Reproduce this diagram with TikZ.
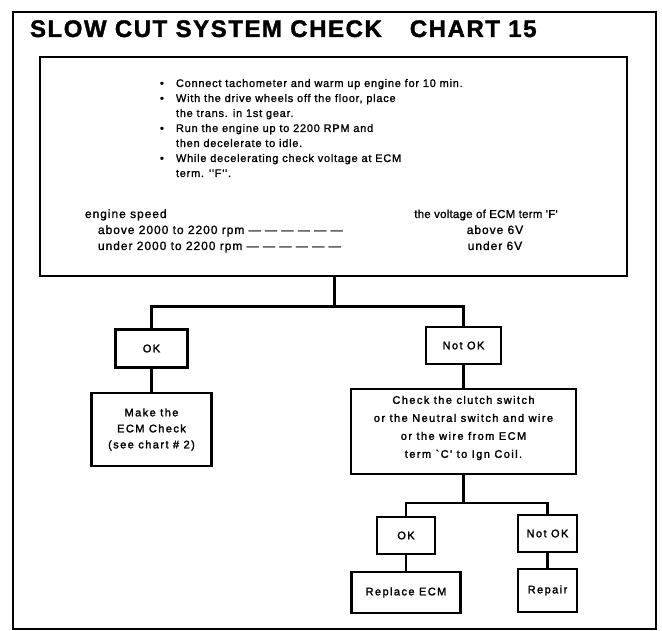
\documentclass[tikz,border=0pt]{standalone}
\usepackage{fontspec}
\setmainfont{Liberation Sans}
\newfontfamily\titlefont[LetterSpace=6.5,FakeBold=1.5]{Liberation Sans Bold}
\newfontfamily\listfont[LetterSpace=6.8,FakeBold=1.3]{Liberation Sans}
\newfontfamily\speedfont[LetterSpace=8,FakeBold=1.3]{Liberation Sans}
\newfontfamily\voltfont[LetterSpace=2,FakeBold=1.3]{Liberation Sans}
\newfontfamily\boxfont[LetterSpace=13,FakeBold=2]{Liberation Sans}
\newcommand\dashrun{—\hspace{4.4pt}—\hspace{4.4pt}—\hspace{4.4pt}—\hspace{4.4pt}—\hspace{4.4pt}—}
\newcommand\stepbullet{\makebox[17pt][l]{\hspace{1pt}•}}
\newcommand\stepindent{\hspace*{17pt}}
\begin{document}
\begin{tikzpicture}[x=1pt,y=-1pt,
  frameline/.style={line width=2.2pt},
  link/.style={line width=2.6pt},
  boxtext/.style={align=center,inner sep=0pt,font=\boxfont\fontsize{11}{16}\selectfont},
  stepbox/.style={draw,line width=2.6pt,boxtext},
  plain/.style={inner sep=0pt,outer sep=0pt}]
\useasboundingbox (0,0) rectangle (662,631);
% outer frame and heading
\draw[frameline] (13,12) rectangle (656,629);
\node[plain,anchor=base west] (title) at (30,37)
  {\titlefont\fontsize{24}{28}\selectfont SLOW CUT SYSTEM CHECK\hspace{28pt}CHART 15};
% procedure box
\node[draw,line width=2.8pt,minimum width=587pt,minimum height=219pt,inner sep=0pt]
  (main) at (333.5,166.5) {};
\node[plain,anchor=north west,align=left,font=\listfont\fontsize{11}{15}\selectfont]
  (steps) at (159,79) {%
  \stepbullet Connect tachometer and warm up engine for 10 min.\\
  \stepbullet With the drive wheels off the floor, place\\
  \stepindent the trans. in 1st gear.\\
  \stepbullet Run the engine up to 2200 RPM and\\
  \stepindent then decelerate to idle.\\
  \stepbullet While decelerating check voltage at ECM\\
  \stepindent term. ''F''.};
\begin{scope}[every node/.style={plain,font=\speedfont\fontsize{12}{15}\selectfont}]
\node[anchor=base west] (speed) at (85,218) {engine speed};
\node[anchor=base west] (spdhigh) at (98,234) {above 2000 to 2200 rpm \dashrun};
\node[anchor=base west] (spdlow) at (98,250) {under 2000 to 2200 rpm \dashrun};
\node[anchor=base,font=\voltfont\fontsize{11.5}{15}\selectfont] (volt) at (486,218)
  {the voltage of ECM term 'F'};
\node[anchor=base] (volthigh) at (495,234) {above 6V};
\node[anchor=base] (voltlow) at (495,250) {under 6V};
\end{scope}
% decision boxes
\node[stepbox,minimum width=72pt,minimum height=38pt] (ok1) at (151.5,348.5) {OK};
\node[stepbox,minimum width=120pt,minimum height=73pt] (make) at (151.5,429.5)
  {Make the\\ECM Check\\(see chart \# 2)};
\node[stepbox,minimum width=75pt,minimum height=37pt] (nok1) at (463.5,345.5) {Not OK};
\node[stepbox,minimum width=225pt,minimum height=85pt] (check) at (463.5,431.5) {};
\node[boxtext,font=\boxfont\fontsize{11}{18}\selectfont] (checktext) at (463.5,428)
  {Check the clutch switch\\or the Neutral switch and wire\\or the wire from ECM\\term `C' to Ign Coil.};
\node[stepbox,minimum width=58pt,minimum height=37pt] (ok2) at (406,535.5) {OK};
\node[stepbox,minimum width=59pt,minimum height=37pt] (nok2) at (547.5,533.5) {Not OK};
\node[stepbox,minimum width=109pt,minimum height=41pt] (repl) at (406,592.5) {Replace ECM};
\node[stepbox,minimum width=59pt,minimum height=43pt] (repair) at (547.5,590.5) {Repair};
% connectors
\coordinate (split1) at (334.5,306.5);
\coordinate (split2) at (463.5,503);
\draw[link] (main.south -| split1) -- (split1);
\draw[link] (ok1.north) |- (split1) -| (nok1.north);
\draw[link] (ok1.south) -- (make.north);
\draw[link] (nok1.south) -- (check.north);
\draw[link] (check.south) -- (split2);
\draw[link] (ok2.north) |- (split2) -| (nok2.north);
\draw[link] (ok2.south) -- (repl.north);
\draw[link] (nok2.south) -- (repair.north);
\end{tikzpicture}
\end{document}
